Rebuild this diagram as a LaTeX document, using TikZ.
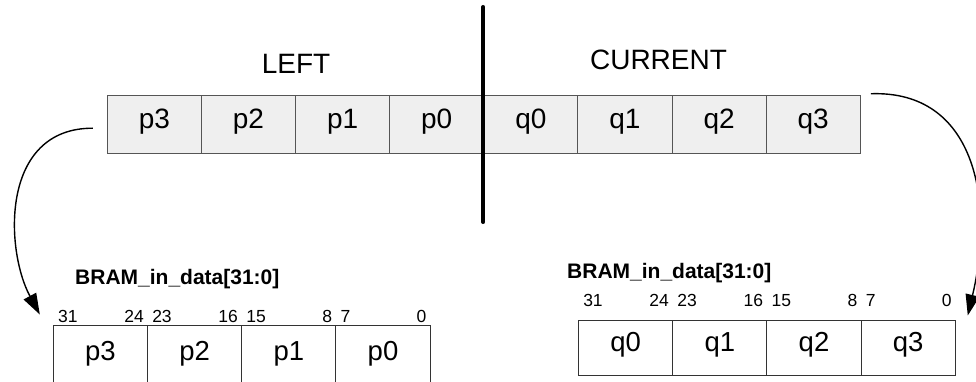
\documentclass[tikz,border=0pt]{standalone}
\usepackage{fontspec}
\setmainfont{Liberation Sans}
\usetikzlibrary{arrows.meta}
\definecolor{cellfill}{HTML}{EFEFEF}
\definecolor{cellline}{HTML}{555555}
\definecolor{boxline}{HTML}{333333}
\begin{document}
\begin{tikzpicture}[x=1pt,y=-1pt,
  topcell/.style={draw=cellline,fill=cellfill,line width=0.9pt,inner sep=0pt,
    minimum width=94.125pt,minimum height=58pt,font=\fontsize{28}{30}\selectfont,
    text height=0.89em,text depth=0pt},
  bramcell/.style={draw=boxline,fill=white,line width=0.9pt,inner sep=0pt,
    minimum width=94.2pt,font=\fontsize{27.5}{30}\selectfont,
    text height=0.89em,text depth=0pt},
  bitlbl/.style={inner sep=0pt,font=\fontsize{17.5}{19}\selectfont},
  ttl/.style={inner sep=0pt,font=\fontsize{21}{24}\selectfont\bfseries},
  side/.style={inner sep=0pt,font=\fontsize{28}{30}\selectfont},
  arr/.style={line width=1.4pt,-{Triangle[length=21pt,width=14pt]}}]
\useasboundingbox (0,0) rectangle (976,382);
% top row
\foreach \n/\i in {p3/0,p2/1,p1/2,p0/3,q0/4,q1/5,q2/6,q3/7}{
  \node[topcell] (\n) at ({107.3+94.125*(\i+0.5)},124.2) {\n};
}
\node[side,anchor=base] (left) at (296,73.3) {LEFT};
\node[side,anchor=base] (cur) at (658.5,70) {CURRENT};
\coordinate (divtop) at (483.3,7);
\coordinate (divbot) at (483.3,222);
\draw[line width=4pt,line cap=round] (divtop) -- (divbot);
% left BRAM box (bottom is cut by the page edge)
\foreach \n/\i in {p3/0,p2/1,p1/2,p0/3}{
  \node[bramcell,minimum height=62pt] (l\n) at ({53.3+94.2*(\i+0.5)},356) {\n};
}
\node[ttl,anchor=base west] (ltitle) at (75,284) {BRAM\_in\_data[31:0]};
\foreach \n/\a/\b in {p3/31/24,p2/23/16,p1/15/8,p0/7/0}{
  \node[bitlbl,anchor=base west] (l\n a) at ([xshift=5pt,yshift=2pt]l\n.north west) {\a};
  \node[bitlbl,anchor=base east] (l\n b) at ([xshift=-4pt,yshift=2pt]l\n.north east) {\b};
}
% right BRAM box
\foreach \n/\i in {q0/0,q1/1,q2/2,q3/3}{
  \node[bramcell,minimum height=55pt] (r\n) at ({578.5+94.2*(\i+0.5)},347.5) {\n};
}
\node[ttl,anchor=base west] (rtitle) at (567,278) {BRAM\_in\_data[31:0]};
\foreach \n/\a/\b in {q0/31/24,q1/23/16,q2/15/8,q3/7/0}{
  \node[bitlbl,anchor=base west] (r\n a) at ([xshift=5pt,yshift=13pt]r\n.north west) {\a};
  \node[bitlbl,anchor=base east] (r\n b) at ([xshift=-4pt,yshift=13pt]r\n.north east) {\b};
}
% arrows
\draw[arr] ([xshift=-14pt,yshift=-4pt]p3.west) .. controls (0,128) and (5,250) .. ([xshift=-13pt,yshift=10pt]lp3.north west);
\draw[arr] ([xshift=10pt,yshift=1pt]q3.north east) .. controls (975,90) and (995,200) .. ([xshift=12pt,yshift=4pt]rq3.north east);
\end{tikzpicture}
\end{document}
